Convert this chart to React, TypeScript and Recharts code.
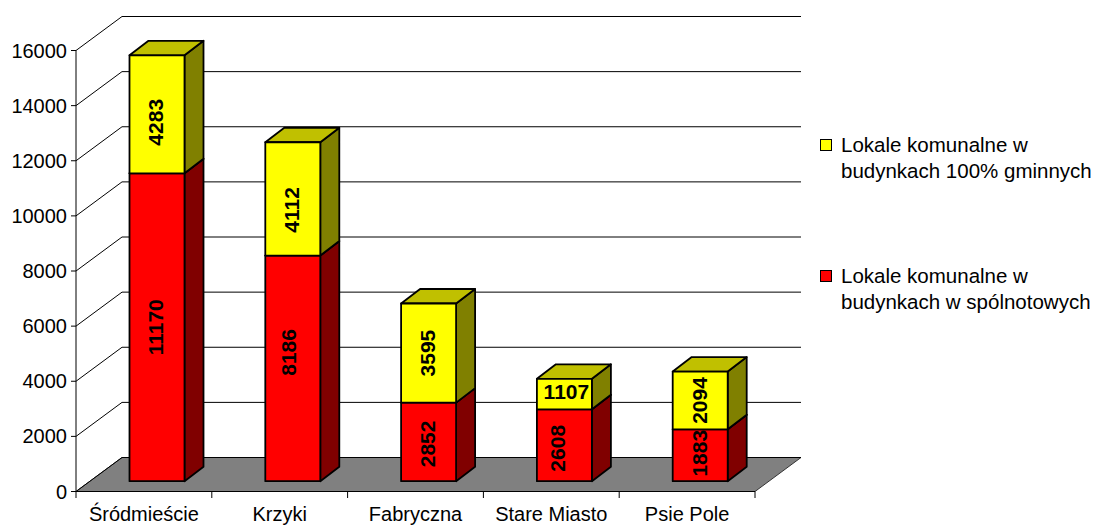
import React from 'react';
import { BarChart, Bar, XAxis, YAxis, CartesianGrid, Legend, LabelList } from 'recharts';

const districts = ['Śródmieście', 'Krzyki', 'Fabryczna', 'Stare Miasto', 'Psie Pole'];
const wspolnoty = [11170, 8186, 2852, 2608, 1883];
const gminne = [4283, 4112, 3595, 1107, 2094];
const yTicks = [0, 2000, 4000, 6000, 8000, 10000, 12000, 14000, 16000];

const rows = districts.map((name, i) => ({ name, wspolnoty: wspolnoty[i], gminne: gminne[i] }));

const FONT = '"Liberation Sans", Arial, sans-serif';
// 3d look: back wall offset, bar offset from the band and bar depth
const WALL = { dx: 46, dy: -34 };
const SHIFT = { dx: 13.5, dy: -10.3 };
const DEPTH = { dx: 19, dy: -14.5 };
const BAND = 135.8;

// Excel does not centre its data labels exactly, these are the nudges by label
const labelNudge: Record<number, [number, number]> = {
  4283: [0, 8],
  8186: [-3, -16],
  4112: [0, 11],
  2852: [0, 2],
  2608: [-6, 3],
  1107: [3, -3],
  1883: [0, -2],
};

function gridLine(p: any) {
  const { x1, x2, y1 } = p;
  const isFloor = Math.abs(y1 - 491.5) < 1;
  return (
    <g key={`grid-${y1}`}>
      {isFloor && (
        <polygon
          points={`${x1},${y1} ${x2},${y1} ${x2 + WALL.dx},${y1 + WALL.dy} ${x1 + WALL.dx},${y1 + WALL.dy}`}
          fill="#808080"
          stroke="#333"
          strokeWidth={1}
        />
      )}
      <line x1={x1} y1={y1} x2={x1 + WALL.dx} y2={y1 + WALL.dy} stroke="#000" strokeWidth={1} />
      <line x1={x1 + WALL.dx} y1={y1 + WALL.dy} x2={x2 + WALL.dx} y2={y1 + WALL.dy} stroke="#000" strokeWidth={1} />
    </g>
  );
}

function box3d(front: string, side: string, top: string) {
  return (p: any) => {
    const x = p.x + SHIFT.dx;
    const y = p.y + SHIFT.dy;
    const w = p.width;
    const h = p.height;
    const { dx, dy } = DEPTH;
    return (
      <g stroke="#000" strokeWidth={1.8} strokeLinejoin="round">
        <polygon points={`${x + w},${y} ${x + w + dx},${y + dy} ${x + w + dx},${y + h + dy} ${x + w},${y + h}`} fill={side} />
        <polygon points={`${x},${y} ${x + dx},${y + dy} ${x + w + dx},${y + dy} ${x + w},${y}`} fill={top} />
        <rect x={x} y={y} width={w} height={h} fill={front} />
      </g>
    );
  };
}

function barLabel(p: any) {
  const nudge = labelNudge[p.value] || [0, 0];
  const cx = p.x + SHIFT.dx + p.width / 2 - 1 + nudge[0];
  const cy = p.y + SHIFT.dy + p.height / 2 + nudge[1];
  // too short for upright text, Excel lays it flat
  const flat = p.height < 45;
  return (
    <text
      x={cx}
      y={cy}
      transform={flat ? undefined : `rotate(-90 ${cx} ${cy})`}
      textAnchor="middle"
      dominantBaseline="central"
      fontFamily={FONT}
      fontSize={21}
      fontWeight="bold"
      fill="#000"
    >
      {p.value}
    </text>
  );
}

// the axis ticks sit between the bands, so they are drawn with the label
function xTick(p: any) {
  const { x, y, payload, index } = p;
  const last = index === districts.length - 1;
  return (
    <g>
      <line x1={x - BAND / 2} y1={491.5} x2={x - BAND / 2} y2={498} stroke="#000" />
      {last && <line x1={x + BAND / 2} y1={491.5} x2={x + BAND / 2} y2={498} stroke="#000" />}
      <text x={x} y={y} textAnchor="middle" dominantBaseline="central" fontFamily={FONT} fontSize={20} fill="#000">
        {payload.value}
      </text>
    </g>
  );
}

function legendContent(p: any) {
  const items = p.payload || [];
  return (
    <div style={{ fontFamily: FONT, fontSize: 20.5, lineHeight: '26px', color: '#000' }}>
      {items.map((it: any) => (
        <div key={it.value} style={{ position: 'relative', paddingLeft: 21, height: 131 }}>
          <span
            style={{
              position: 'absolute',
              left: 0,
              top: 7,
              width: 10,
              height: 10,
              background: it.color,
              border: '1.5px solid #000',
            }}
          />
          {it.value}
        </div>
      ))}
    </div>
  );
}

export default function App() {
  return (
    <div style={{ position: 'absolute', left: 0, top: 0, width: 1099, height: 525, overflow: 'hidden', background: '#fff' }}>
      <BarChart
        width={1099}
        height={525}
        data={rows}
        barSize={55}
        margin={{ top: 50.5, right: 65, bottom: 0, left: 0 }}
        style={{ fontFamily: FONT }}
      >
        <CartesianGrid horizontal={gridLine} vertical={false} />
        <XAxis
          dataKey="name"
          height={33.5}
          interval={0}
          tickSize={0}
          tickMargin={22}
          stroke="#000"
          tick={xTick}
        />
        <YAxis
          width={76}
          domain={[0, 16000]}
          ticks={yTicks}
          interval={0}
          tickSize={5}
          tickMargin={4}
          stroke="#000"
          tick={{ fill: '#000', fontSize: 20, fontFamily: FONT }}
        />
        <Legend
          layout="vertical"
          align="right"
          verticalAlign="top"
          width={279}
          wrapperStyle={{ left: 820, top: 132 }}
          content={legendContent}
        />
        <Bar
          dataKey="wspolnoty"
          name="Lokale komunalne w budynkach w spólnotowych"
          stackId="a"
          fill="#ff0000"
          shape={box3d('#ff0000', '#800000', '#c00000')}
          isAnimationActive={false}
        >
          <LabelList dataKey="wspolnoty" content={barLabel} />
        </Bar>
        <Bar
          dataKey="gminne"
          name="Lokale komunalne w budynkach 100% gminnych"
          stackId="a"
          fill="#ffff00"
          shape={box3d('#ffff00', '#808000', '#c0c000')}
          isAnimationActive={false}
        >
          <LabelList dataKey="gminne" content={barLabel} />
        </Bar>
      </BarChart>
    </div>
  );
}
